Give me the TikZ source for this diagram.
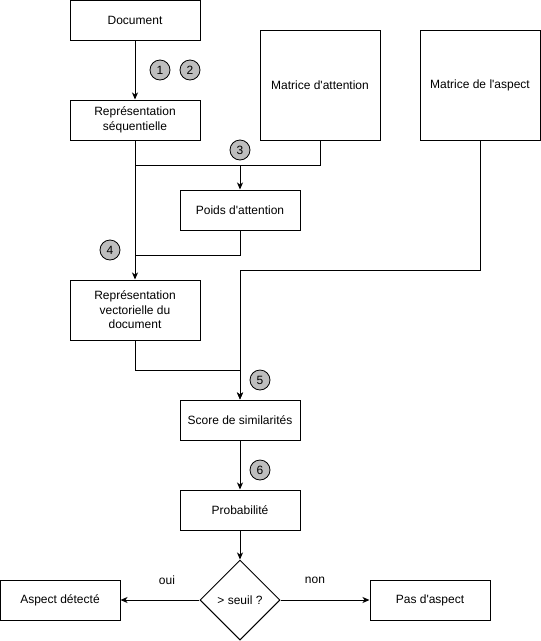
\documentclass[tikz,border=0pt]{standalone}
\usepackage{fontspec}
\setmainfont{Liberation Sans}
\usepackage{tikz}
\usetikzlibrary{shapes.geometric, arrows.meta, positioning, calc}
\definecolor{cEtape}{RGB}{190,190,190}
\newcommand{\apos}{\textquotesingle}
\tikzset{
	boite/.style   ={rectangle, draw=black, line width=1pt, minimum width=130pt, minimum height=40pt, align=center, inner sep=2pt},
	petite/.style  ={boite, minimum width=120pt},
	matrice/.style ={rectangle, draw=black, line width=1pt, minimum width=120pt, minimum height=110pt, align=center},
	decision/.style={diamond, draw=black, line width=1pt, minimum width=80pt, minimum height=80pt, inner sep=0pt, aspect=1},
	etape/.style   ={circle, draw=black, line width=0.8pt, fill=cEtape, minimum size=20pt, inner sep=0pt},
	ligne/.style   ={line width=1pt},
	fleche/.style  ={line width=1pt, -{Stealth[length=7pt, width=6pt, inset=2pt]}},
}
\begin{document}
\begin{tikzpicture}[x=1pt, y=-1pt, font=\fontsize{12}{14.5}\selectfont]
	\useasboundingbox (0,0) rectangle (541,641);
	% boites principales
	\node[boite] (doc) at (135,20) {Document};
	\node[boite] (repr) at (135,120) {Représentation\\séquentielle};
	\node[matrice] (attn) at (320,85) {Matrice d\apos attention};
	\node[matrice] (aspect) at (480,85) {Matrice de l\apos aspect};
	\node[petite] (poids) at (240,210) {Poids d\apos attention};
	\node[boite, minimum height=60pt] (vect) at (135,310) {Représentation\\vectorielle du\\document};
	\node[petite] (score) at (240,420) {Score de similarités};
	\node[petite] (proba) at (240,510) {Probabilité};
	\node[decision] (seuil) at (240,600) {> seuil ?};
	\node[petite] (detecte) at (60,600) {Aspect détecté};
	\node[petite] (pasasp) at (430,600) {Pas d\apos aspect};
	% etapes
	\node[etape] (n1) at (160,70) {1};
	\node[etape] (n2) at (190,70) {2};
	\node[etape] (n3) at (240,150) {3};
	\node[etape] (n4) at (110,250) {4};
	\node[etape] (n5) at (260,380) {5};
	\node[etape] (n6) at (260,470) {6};
	% jonctions
	\coordinate (jAttn) at (135,165);
	\coordinate (jPoids) at (135,255);
	% connexions
	\draw[fleche] (doc) -- (repr);
	\draw[fleche] (repr) -- (vect);
	\draw[ligne] (attn.south) |- (jAttn);
	\draw[fleche] (poids.north |- jAttn) -- (poids);
	\draw[ligne] (poids.south) |- (jPoids);
	\draw[fleche] (vect.south) -- ++(0,30) -| (score.north);
	\draw[fleche] (aspect.south) -- ++(0,130) -| (score.north);
	\draw[fleche] (score) -- (proba);
	\draw[fleche] (proba) -- (seuil);
	\draw[fleche] (seuil) -- (detecte);
	\draw[fleche] (seuil) -- (pasasp);
	\node (oui) at (167,580) {oui};
	\node (non) at (315,580) {non};
\end{tikzpicture}
\end{document}
